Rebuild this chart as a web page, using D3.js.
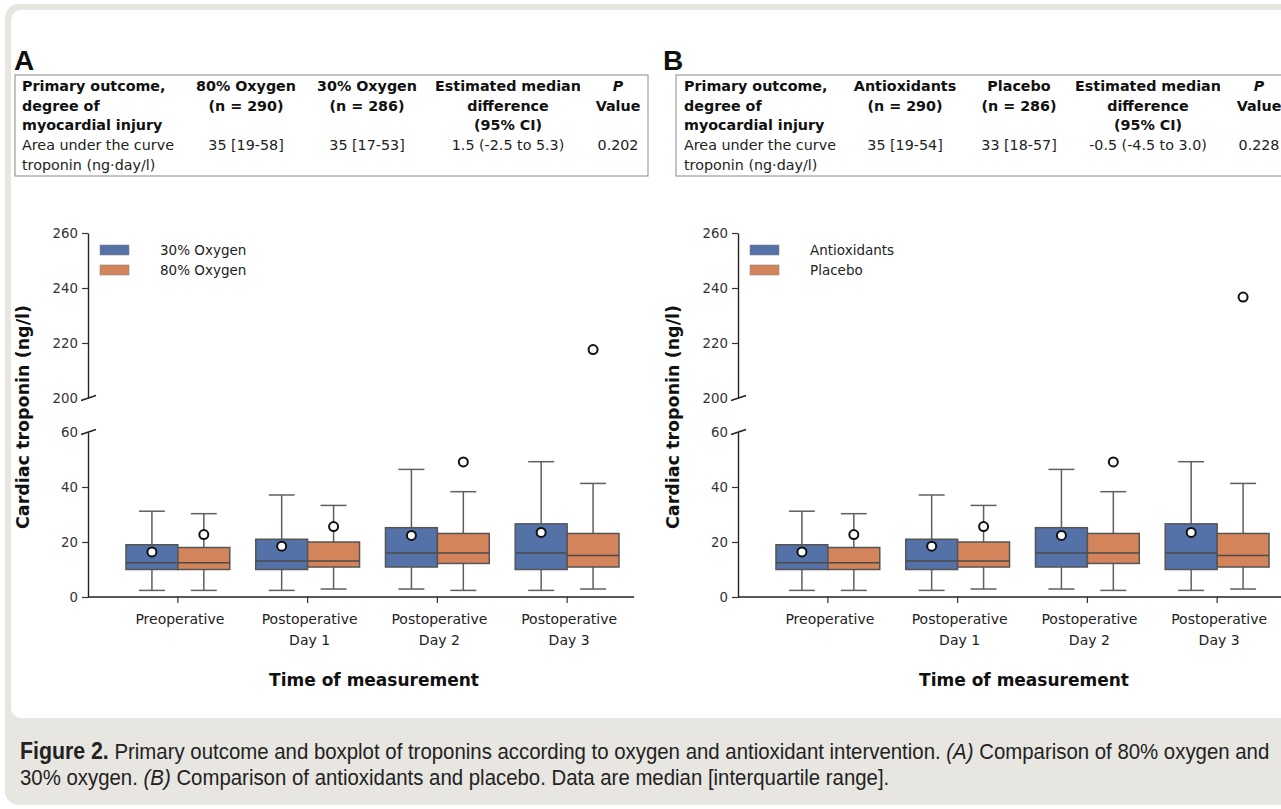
<!DOCTYPE html>
<html>
<head>
<meta charset="utf-8">
<script src="https://cdn.jsdelivr.net/npm/d3@7"></script>
<style>
  body { margin: 0; background: #fff; }
  svg { display: block; }
</style>
</head>
<body>
<div id="plot"></div>
<script>
// categories and tick labels
const categories = ["Preoperative", "Postoperative Day 1", "Postoperative Day 2", "Postoperative Day 3"];
const categoryLines = [["Preoperative"], ["Postoperative", "Day 1"], ["Postoperative", "Day 2"], ["Postoperative", "Day 3"]];
const lowTicks = [0, 20, 40, 60];
const highTicks = [200, 220, 240, 260];

// panel A series: [whisker low, q1, median, q3, whisker high]
const groupsA = ["30% Oxygen", "80% Oxygen"];
const oxygen30Stats = [[2.4, 10, 12.5, 19, 31.2], [2.4, 10, 13.1, 21, 37.1], [2.9, 10.9, 16, 25.2, 46.4], [2.4, 10, 16, 26.6, 49.2]];
const oxygen30Means = [16.4, 18.5, 22.4, 23.5];
const oxygen80Stats = [[2.4, 10, 12.5, 18, 30.3], [2.9, 10.9, 13.1, 20, 33.3], [2.4, 12.2, 16, 23.1, 38.3], [2.9, 10.9, 15.1, 23.1, 41.3]];
const oxygen80Means = [22.7, 25.6, 49.1, 217.6];

// panel B series
const groupsB = ["Antioxidants", "Placebo"];
const antioxStats = [[2.4, 10, 12.5, 19, 31.2], [2.4, 10, 13.1, 21, 37.1], [2.9, 10.9, 16, 25.2, 46.4], [2.4, 10, 16, 26.6, 49.2]];
const antioxMeans = [16.4, 18.5, 22.4, 23.5];
const placeboStats = [[2.4, 10, 12.5, 18, 30.3], [2.9, 10.9, 13.1, 20, 33.3], [2.4, 12.2, 16, 23.1, 38.3], [2.9, 10.9, 15.1, 23.1, 41.3]];
const placeboMeans = [22.7, 25.6, 49.1, 236.7];

// tables
const headA = [["Primary outcome,", "degree of", "myocardial injury"], ["80% Oxygen", "(n = 290)"], ["30% Oxygen", "(n = 286)"], ["Estimated median", "difference", "(95% CI)"], ["P", "Value"]];
const rowA = [["Area under the curve", "troponin (ng\u00b7day/l)"], ["35 [19-58]"], ["35 [17-53]"], ["1.5 (-2.5 to 5.3)"], ["0.202"]];
const headB = [["Primary outcome,", "degree of", "myocardial injury"], ["Antioxidants", "(n = 290)"], ["Placebo", "(n = 286)"], ["Estimated median", "difference", "(95% CI)"], ["P", "Value"]];
const rowB = [["Area under the curve", "troponin (ng\u00b7day/l)"], ["35 [19-54]"], ["33 [18-57]"], ["-0.5 (-4.5 to 3.0)"], ["0.228"]];

const colors = ["#5471a8", "#d4845a"];
const font = "'DejaVu Sans', Verdana, sans-serif";

const W = 1281, H = 809;
const svg = d3.select("#plot").append("svg").attr("width", W).attr("height", H);

// figure frame
svg.append("rect").attr("x", 5).attr("y", 4).attr("width", W + 20).attr("height", H - 8)
    .attr("rx", 14).attr("fill", "#e8e6e1");
svg.append("rect").attr("x", 11).attr("y", 10).attr("width", W + 20).attr("height", 708)
    .attr("rx", 10).attr("fill", "#fff");

// caption: narrow look by squeezing the whole group horizontally
const capFont = "'Liberation Sans', Arial, sans-serif";
const capG = svg.append("g");
const cap = capG.append("text").attr("x", 0).attr("y", 759)
    .style("font-family", capFont).style("font-size", "22px").attr("fill", "#222");
cap.append("tspan").style("font-weight", "bold").style("font-size", "23px").text("Figure 2.");
cap.append("tspan").text("  Primary outcome and boxplot of troponins according to oxygen and antioxidant intervention. ");
cap.append("tspan").style("font-style", "italic").text("(A)");
cap.append("tspan").text(" Comparison of 80% oxygen and");
const cap2 = capG.append("text").attr("x", 0).attr("y", 785)
    .style("font-family", capFont).style("font-size", "22px").attr("fill", "#222");
cap2.append("tspan").text("30% oxygen. ");
cap2.append("tspan").style("font-style", "italic").text("(B)");
cap2.append("tspan").text(" Comparison of antioxidants and placebo. Data are median [interquartile range].");
const sx = 1250 / cap.node().getComputedTextLength();
capG.attr("transform", "translate(20,0) scale(" + sx + ",1)");

function drawTable(g, letter, letterX, head, row, colX, boxX, boxW) {
    g.append("text").attr("x", letterX).attr("y", 70).text(letter)
        .style("font-family", "'Liberation Sans', Arial, sans-serif")
        .style("font-weight", "bold").style("font-size", "28px").attr("fill", "#111");
    g.append("rect").attr("x", boxX).attr("y", 75).attr("width", boxW).attr("height", 101)
        .attr("fill", "none").attr("stroke", "#8a8a8a").attr("stroke-width", 1);
    const lh = 19.7;
    head.forEach(function(lines, i) {
        lines.forEach(function(s, j) {
            g.append("text")
                .attr("x", boxX + colX[i]).attr("y", 91 + j * lh)
                .attr("text-anchor", i === 0 ? "start" : "middle")
                .style("font-family", font).style("font-size", "14.3px")
                .style("font-weight", "bold")
                .style("font-style", (i === 4 && j === 0) ? "italic" : "normal")
                .attr("fill", "#111").text(s);
        });
    });
    row.forEach(function(lines, i) {
        lines.forEach(function(s, j) {
            g.append("text")
                .attr("x", boxX + colX[i]).attr("y", 150 + j * lh)
                .attr("text-anchor", i === 0 ? "start" : "middle")
                .style("font-family", font).style("font-size", "14.3px")
                .attr("fill", "#222").text(s);
        });
    });
}

drawTable(svg.append("g"), "A", 14, headA, rowA, [7, 231, 352, 493, 603], 15, 633);
drawTable(svg.append("g"), "B", 663, headB, rowB, [8, 229, 343, 472, 583], 676, 640);

function drawPanel(g, groups, series, means) {
    const yLow = d3.scaleLinear().domain([0, 60]).range([597, 432]);
    const yHigh = d3.scaleLinear().domain([200, 260]).range([398, 233]);
    const y = function(v) { return v > 60 ? yHigh(v) : yLow(v); };
    const x = d3.scaleBand().domain(categories).range([113, 632]);
    const xs = d3.scaleBand().domain(groups).range([0, x.bandwidth()]).paddingOuter(0.25);

    // y axes (two segments)
    const axLow = g.append("g").attr("transform", "translate(88,0)")
        .call(d3.axisLeft(yLow).tickValues(lowTicks).tickSize(6).tickPadding(4).tickSizeOuter(0));
    const axHigh = g.append("g").attr("transform", "translate(88,0)")
        .call(d3.axisLeft(yHigh).tickValues(highTicks).tickSize(6).tickPadding(4).tickSizeOuter(0));
    [axLow, axHigh].forEach(function(ax) {
        ax.select(".domain").attr("stroke", "#222").attr("stroke-width", 1.4);
        ax.selectAll(".tick line").attr("stroke", "#333").attr("stroke-width", 1.2)
            .filter(function(d) { return d === 60 || d === 200; }).remove();
        ax.selectAll(".tick text").style("font-family", font).style("font-size", "13.3px").attr("fill", "#333");
    });
    // break marks
    [yLow(60), yHigh(200)].forEach(function(py) {
        g.append("line").attr("x1", 81).attr("x2", 96).attr("y1", py + 2.5).attr("y2", py - 2.5)
            .attr("stroke", "#222").attr("stroke-width", 1.4);
    });

    // x axis
    const xa = g.append("g").attr("transform", "translate(0,597)")
        .call(d3.axisBottom(x).tickSize(6).tickSizeOuter(0).tickFormat(""));
    xa.select(".domain").remove();
    xa.selectAll(".tick line").attr("stroke", "#333").attr("stroke-width", 1.2);
    g.append("line").attr("x1", 88).attr("x2", 634).attr("y1", 597).attr("y2", 597)
        .attr("stroke", "#222").attr("stroke-width", 1.4);
    categories.forEach(function(c, i) {
        categoryLines[i].forEach(function(s, j) {
            g.append("text").attr("x", x(c) + x.bandwidth() / 2 + 2).attr("y", 624 + j * 20.5)
                .attr("text-anchor", "middle").style("font-family", font).style("font-size", "14px")
                .attr("fill", "#222").text(s);
        });
    });

    // titles
    g.append("text").attr("x", 374).attr("y", 686).attr("text-anchor", "middle")
        .style("font-family", font).style("font-weight", "bold").style("font-size", "17px")
        .attr("fill", "#111").text("Time of measurement");
    g.append("text").attr("transform", "translate(29,417) rotate(-90)").attr("text-anchor", "middle")
        .style("font-family", font).style("font-weight", "bold").style("font-size", "17.5px")
        .attr("fill", "#111").text("Cardiac troponin (ng/l)");

    // boxes
    series.forEach(function(stats, si) {
        const bw = xs.bandwidth();
        const boxes = g.selectAll(null).data(stats).enter().append("g")
            .attr("transform", function(d, i) { return "translate(" + (x(categories[i]) + xs(groups[si])) + ",0)"; });
        const cx = bw / 2;
        boxes.append("line").attr("x1", cx).attr("x2", cx)
            .attr("y1", function(d) { return y(d[3]); }).attr("y2", function(d) { return y(d[4]); })
            .attr("stroke", "#5f5f5f").attr("stroke-width", 1.5);
        boxes.append("line").attr("x1", cx).attr("x2", cx)
            .attr("y1", function(d) { return y(d[0]); }).attr("y2", function(d) { return y(d[1]); })
            .attr("stroke", "#5f5f5f").attr("stroke-width", 1.5);
        boxes.selectAll(".cap").data(function(d) { return [d[0], d[4]]; }).enter().append("line")
            .attr("x1", cx - bw / 4).attr("x2", cx + bw / 4)
            .attr("y1", function(v) { return y(v); }).attr("y2", function(v) { return y(v); })
            .attr("stroke", "#5f5f5f").attr("stroke-width", 1.5);
        boxes.append("rect").attr("x", 0).attr("width", bw)
            .attr("y", function(d) { return y(d[3]); })
            .attr("height", function(d) { return y(d[1]) - y(d[3]); })
            .attr("fill", colors[si]).attr("stroke", "#555").attr("stroke-width", 1.5);
        boxes.append("line").attr("x1", 0).attr("x2", bw)
            .attr("y1", function(d) { return y(d[2]); }).attr("y2", function(d) { return y(d[2]); })
            .attr("stroke", "#4a4a4a").attr("stroke-width", 1.5);
        boxes.append("circle").attr("cx", cx)
            .attr("cy", function(d, i) { return y(means[si][i]); }).attr("r", 4.5)
            .attr("fill", "#fff").attr("stroke", "#111").attr("stroke-width", 2);
    });

    // legend
    groups.forEach(function(name, i) {
        g.append("rect").attr("x", 100).attr("y", 245 + i * 20).attr("width", 29).attr("height", 10)
            .attr("fill", colors[i]).attr("stroke", "#888").attr("stroke-width", 0.6);
        g.append("text").attr("x", 160).attr("y", 255 + i * 20)
            .style("font-family", font).style("font-size", "13.5px").attr("fill", "#222").text(name);
    });
}

drawPanel(svg.append("g"), groupsA, [oxygen30Stats, oxygen80Stats], [oxygen30Means, oxygen80Means]);
drawPanel(svg.append("g").attr("transform", "translate(650,0)"), groupsB, [antioxStats, placeboStats], [antioxMeans, placeboMeans]);
</script>
</body>
</html>
